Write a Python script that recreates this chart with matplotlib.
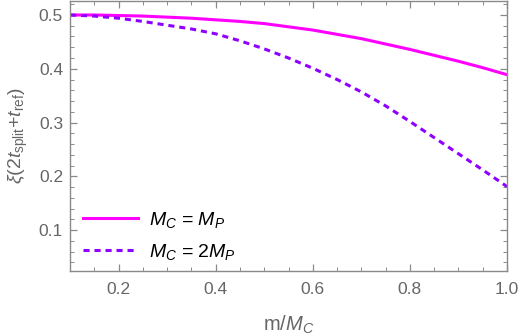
import matplotlib
matplotlib.use('Agg')
import matplotlib.pyplot as plt
from matplotlib.ticker import MultipleLocator

plt.rcParams['font.family'] = ['Liberation Sans', 'DejaVu Sans']
plt.rcParams['mathtext.fontset'] = 'custom'
plt.rcParams['mathtext.rm'] = 'Liberation Sans'
plt.rcParams['mathtext.it'] = 'Liberation Sans:italic'

# valores
m = [0.10, 0.15, 0.20, 0.25, 0.30, 0.35, 0.40, 0.45, 0.50, 0.55,
     0.60, 0.65, 0.70, 0.75, 0.80, 0.85, 0.90, 0.95, 1.00]
xi_igual = [0.500, 0.500, 0.499, 0.498, 0.496, 0.494, 0.491, 0.488, 0.484, 0.478,
            0.472, 0.464, 0.456, 0.446, 0.436, 0.425, 0.414, 0.402, 0.389]
xi_doble = [0.500, 0.498, 0.494, 0.488, 0.481, 0.474, 0.465, 0.452, 0.437, 0.420,
            0.401, 0.380, 0.357, 0.331, 0.302, 0.272, 0.242, 0.212, 0.181]
etiquetas = [r'$M_C$ = $M_P$', r'$M_C$ = 2$M_P$']

gris = '#8a8a8a'
fig = plt.figure(figsize=(5.23, 3.36), dpi=100)
ax = fig.add_axes([70 / 523, 1 - 271 / 336, 437 / 523, 270 / 336])

ax.plot(m, xi_igual, color='#ff00ff', lw=2.2, label=etiquetas[0])
ax.plot(m, xi_doble, color='#9000ff', lw=2.2, ls=(0, (2.0, 1.6)), label=etiquetas[1])

ax.set_xlim(0.1, 1.0)
ax.set_ylim(0.024, 0.526)
ax.xaxis.set_major_locator(MultipleLocator(0.2))
ax.xaxis.set_minor_locator(MultipleLocator(0.05))
ax.yaxis.set_major_locator(MultipleLocator(0.1))
ax.yaxis.set_minor_locator(MultipleLocator(0.02))
ax.tick_params(which='both', direction='in', top=True, right=True, color=gris,
               labelcolor='#666666', labelsize=12.5)
ax.tick_params(which='major', length=5, width=0.9)
ax.tick_params(which='minor', length=2.8, width=0.7)
ax.tick_params(axis='x', pad=8)
ax.tick_params(axis='y', pad=5)
for s in ax.spines.values():
    s.set_color(gris)
    s.set_linewidth(1.0)

ax.set_xlabel(r'm/$M_C$', color='#666666', fontsize=14.5, labelpad=12)
ax.set_ylabel(r'$\xi$(2$t_{\rm split}$+$t_{\rm ref}$)', color='#666666', fontsize=14, labelpad=6)

ax.legend(loc='lower left', frameon=False, fontsize=14, handlelength=2.8,
          handletextpad=0.6, labelspacing=0.62, borderaxespad=0.05,
          bbox_to_anchor=(0.01, 0.0))

fig.savefig('out.png', dpi=100)
